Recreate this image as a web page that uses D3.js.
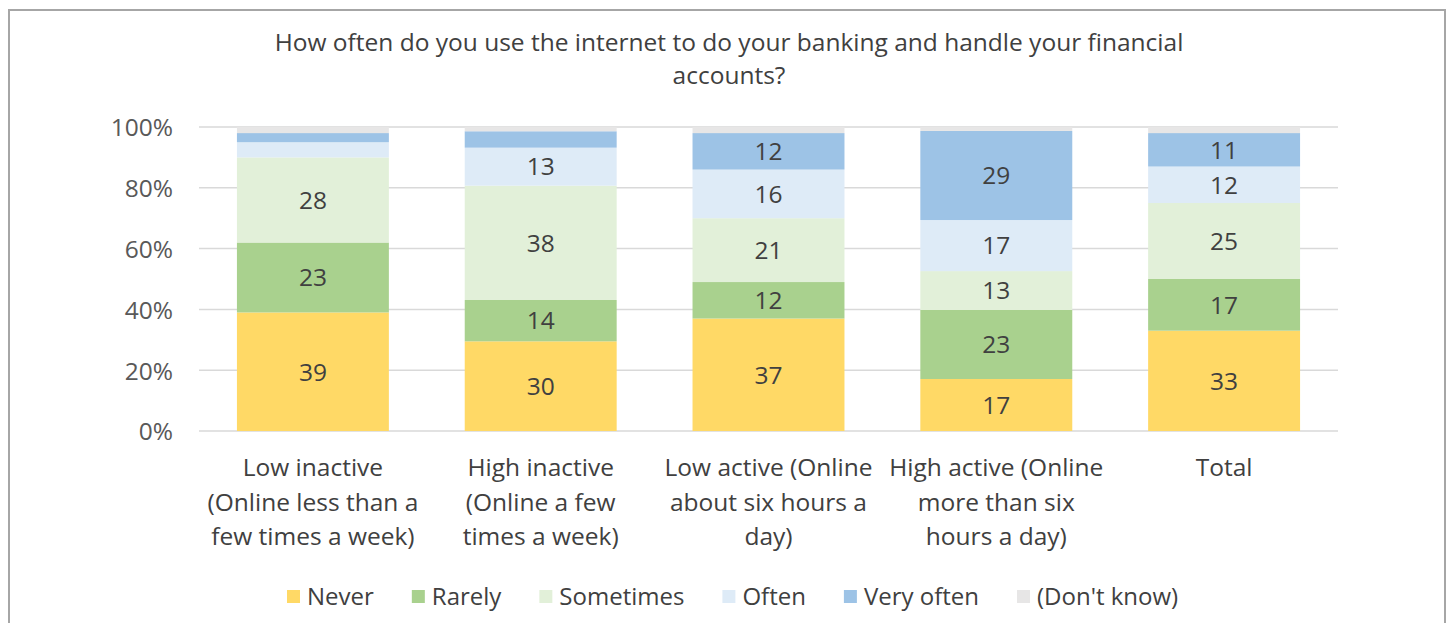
<!DOCTYPE html>
<html><head><meta charset="utf-8">
<script src="https://cdn.jsdelivr.net/npm/d3@7"></script>
<style>body{margin:0;background:#fff}svg{display:block}text{font-family:"Open Sans",sans-serif}</style>
</head><body>
<svg id="c" width="1453" height="623"></svg>
<script>
const categories = [
  ["Low inactive","(Online less than a","few times a week)"],
  ["High inactive","(Online a  few","times a week)"],
  ["Low active (Online","about six hours a","day)"],
  ["High active (Online","more than six","hours a day)"],
  ["Total"]
];
const seriesNames = ["Never","Rarely","Sometimes","Often","Very often","(Don't know)"];
const never      = [39, 29.5, 37, 17.1, 33];
const rarely     = [23, 13.6, 12, 22.7, 17];
const sometimes  = [28, 37.6, 21, 12.8, 25];
const often      = [5, 12.5, 16, 16.8, 12];
const veryOften  = [3, 5.4, 12, 29.3, 11];
const dontKnow   = [2, 1.4, 2, 1.3, 2];
const showLabel  = [true, true, true, true, true, false];
const labelMin = 8;
const yTicks = [0, 20, 40, 60, 80, 100];
const colors = ["#FFD966","#A9D18E","#E2F0D9","#DEEBF7","#9DC3E6","#E7E6E6"];

(function(){
const seriesVals = [never, rarely, sometimes, often, veryOften, dontKnow];
const svg = d3.select("#c");
const pL = 199, pR = 1338, pT = 127, pB = 431;
const FS = 24.5;

svg.append("rect").attr("x",9).attr("y",10).attr("width",1436).attr("height",640)
  .attr("fill","#fff").attr("stroke","#a6a6a6").attr("stroke-width",2);

const title = svg.append("text").attr("text-anchor","middle").attr("fill","#404040").attr("font-size",FS);
title.append("tspan").attr("x",729).attr("y",51).text("How often do you use the internet to do your banking and handle your financial");
title.append("tspan").attr("x",729).attr("y",84).text("accounts?");

const x = d3.scaleBand().domain(d3.range(categories.length)).range([pL,pR]).paddingInner(0.333).paddingOuter(0.1665);
const y = d3.scaleLinear().domain([0,100]).range([pB,pT]);

svg.append("g").selectAll("line").data(yTicks).join("line")
  .attr("x1",pL).attr("x2",pR).attr("y1",d=>y(d)).attr("y2",d=>y(d))
  .attr("stroke","#d9d9d9").attr("stroke-width",1.5);

const yAxis = d3.axisLeft(y).tickValues(yTicks).tickFormat(d=>d+"%").tickSize(0).tickPadding(0);
const gy = svg.append("g").attr("transform",`translate(173,0)`).call(yAxis);
gy.select(".domain").remove();
gy.selectAll("text").attr("font-size",FS).attr("fill","#595959").attr("font-family","'Open Sans',sans-serif").attr("dy","0.36em");

const rows = categories.map((c,i)=>{const o={i}; seriesNames.forEach((s,k)=>o[s]=seriesVals[k][i]); return o;});
const stack = d3.stack().keys(seriesNames)(rows);
stack.forEach((layer,k)=>{
  const g = svg.append("g");
  g.selectAll("rect").data(layer).join("rect")
    .attr("x",d=>x(d.data.i)).attr("width",x.bandwidth())
    .attr("y",d=>y(d[1])).attr("height",d=>y(d[0])-y(d[1]))
    .attr("fill",colors[k]);
  if(showLabel[k]){
    g.selectAll("text").data(layer.filter(d=>d[1]-d[0]>=labelMin)).join("text")
      .attr("x",d=>x(d.data.i)+x.bandwidth()/2).attr("y",d=>(y(d[0])+y(d[1]))/2)
      .attr("dy","0.36em").attr("text-anchor","middle").attr("font-size",FS).attr("fill","#404040")
      .text(d=>Math.round(d[1]-d[0]));
  }
});

const xl = svg.append("g");
categories.forEach((lines,i)=>{
  const t = xl.append("text").attr("text-anchor","middle").attr("fill","#404040").attr("font-size",FS);
  lines.forEach((l,j)=>t.append("tspan").attr("x",x(i)+x.bandwidth()/2).attr("y",476+j*34.5).text(l));
});

const lg = svg.append("g");
let lx = 287;
seriesNames.forEach((s,k)=>{
  lg.append("rect").attr("x",lx).attr("y",590).attr("width",13).attr("height",13).attr("fill",colors[k]);
  const t = lg.append("text").attr("x",lx+20).attr("y",605).attr("font-size",24).attr("fill","#404040").text(s);
  lx += 20 + t.node().getComputedTextLength() + 38;
});
})();
</script>
</body></html>
